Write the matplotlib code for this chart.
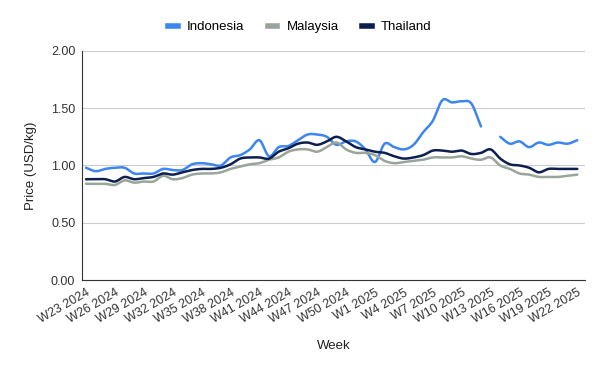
import matplotlib
matplotlib.use("Agg")
import matplotlib.pyplot as plt
import numpy as np
from matplotlib.lines import Line2D

weeks = [f"W{w} 2024" for w in range(23, 53)] + [f"W{w} 2025" for w in range(1, 23)]

indonesia = [
    0.98, 0.95, 0.97, 0.98, 0.98, 0.93, 0.93, 0.93, 0.97, 0.96,
    0.96, 1.01, 1.02, 1.01, 1.00, 1.07, 1.09, 1.14, 1.22, 1.08,
    1.16, 1.17, 1.22, 1.27, 1.27, 1.25, 1.18, 1.21, 1.21, 1.14,
    1.03, 1.19, 1.16, 1.14, 1.18, 1.29, 1.39, 1.57, 1.55, 1.56,
    1.54, 1.34, np.nan, 1.25, 1.19, 1.21, 1.16, 1.20, 1.18, 1.20,
    1.19, 1.22,
]
malaysia = [
    0.84, 0.84, 0.84, 0.83, 0.87, 0.85, 0.86, 0.86, 0.91, 0.88,
    0.89, 0.92, 0.93, 0.93, 0.94, 0.97, 0.99, 1.01, 1.02, 1.05,
    1.07, 1.12, 1.14, 1.14, 1.12, 1.16, 1.20, 1.14, 1.11, 1.11,
    1.09, 1.04, 1.02, 1.03, 1.04, 1.05, 1.07, 1.07, 1.07, 1.08,
    1.06, 1.05, 1.07, 1.00, 0.97, 0.93, 0.92, 0.90, 0.90, 0.90,
    0.91, 0.92,
]
thailand = [
    0.88, 0.88, 0.88, 0.86, 0.90, 0.88, 0.89, 0.90, 0.93, 0.92,
    0.94, 0.96, 0.97, 0.97, 0.98, 1.01, 1.06, 1.07, 1.07, 1.06,
    1.12, 1.15, 1.19, 1.20, 1.18, 1.21, 1.25, 1.21, 1.16, 1.14,
    1.12, 1.11, 1.08, 1.06, 1.07, 1.09, 1.13, 1.13, 1.12, 1.13,
    1.10, 1.11, 1.14, 1.06, 1.01, 1.00, 0.98, 0.94, 0.97, 0.97,
    0.97, 0.97,
]

series = [
    ("Indonesia", indonesia, "#3d85f0"),
    ("Malaysia", malaysia, "#9aa59a"),
    ("Thailand", thailand, "#0c1f4e"),
]


def smooth_segments(y, n=10):
    # catmull-rom rendering of each run of non-missing points
    y = np.asarray(y, dtype=float)
    x = np.arange(len(y), dtype=float)
    ok = ~np.isnan(y)
    runs, start = [], None
    for i, v in enumerate(ok):
        if v and start is None:
            start = i
        if (not v or i == len(y) - 1) and start is not None:
            end = i + 1 if v else i
            runs.append((start, end))
            start = None
    out = []
    for a, b in runs:
        xs, ys = x[a:b], y[a:b]
        if len(xs) < 3:
            out.append((xs, ys))
            continue
        p = np.concatenate([[2 * ys[0] - ys[1]], ys, [2 * ys[-1] - ys[-2]]])
        sx, sy = [], []
        for k in range(len(ys) - 1):
            t = np.linspace(0, 1, n, endpoint=False)
            p0, p1, p2, p3 = p[k], p[k + 1], p[k + 2], p[k + 3]
            seg = 0.5 * (2 * p1 + (-p0 + p2) * t
                         + (2 * p0 - 5 * p1 + 4 * p2 - p3) * t ** 2
                         + (-p0 + 3 * p1 - 3 * p2 + p3) * t ** 3)
            sx.extend(xs[k] + t)
            sy.extend(seg)
        sx.append(xs[-1])
        sy.append(ys[-1])
        out.append((np.array(sx), np.array(sy)))
    return out


plt.rcParams["font.family"] = ["Liberation Sans", "DejaVu Sans"]

fig = plt.figure(figsize=(6, 3.71), dpi=100)
ax = fig.add_axes([0.137, 0.245, 0.838, 0.618])

for name, vals, color in series:
    for sx, sy in smooth_segments(vals):
        ax.plot(sx, sy, color=color, linewidth=1.8, solid_capstyle="round")

ax.set_xlim(-0.4, 51.8)
ax.set_ylim(0, 2.0)
ax.set_yticks([0, 0.5, 1.0, 1.5, 2.0])
ax.set_yticklabels([f"{v:.2f}" for v in [0, 0.5, 1.0, 1.5, 2.0]], fontsize=9, color="#333333")
tick_idx = list(range(0, len(weeks), 3))
ax.set_xticks(tick_idx)
ax.set_xticklabels([weeks[i] for i in tick_idx], rotation=30, ha="right",
                   rotation_mode="anchor", fontsize=9, color="#333333")
ax.tick_params(length=0, pad=5)
ax.grid(axis="y", color="#cccccc", linewidth=0.8)
ax.set_axisbelow(True)
for s in ["top", "right"]:
    ax.spines[s].set_visible(False)
ax.spines["left"].set_color("#333333")
ax.spines["bottom"].set_color("#333333")

ax.set_xlabel("Week", fontsize=9.5, color="#222222", labelpad=10)
ax.set_ylabel("Price (USD/kg)", fontsize=9.5, color="#222222", labelpad=10)

handles = [Line2D([0], [0], color=c, linewidth=4) for _, _, c in series]
fig.legend(handles, [n for n, _, _ in series], loc="upper center",
           bbox_to_anchor=(0.5, 0.975), ncol=3, frameon=False, fontsize=9.5,
           handlelength=0.7, columnspacing=1.8, handletextpad=0.7)

fig.savefig("out.png", dpi=100)
